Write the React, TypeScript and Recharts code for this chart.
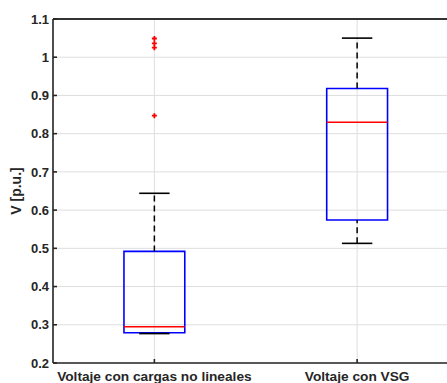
import React from 'react';
import {
  ComposedChart,
  XAxis,
  YAxis,
  CartesianGrid,
  ReferenceLine,
  ReferenceArea,
  Scatter,
} from 'recharts';

const categories = ['Voltaje con cargas no lineales', 'Voltaje con VSG'];
const positions = [1, 2];
const q1 = [0.279, 0.574];
const median = [0.295, 0.83];
const q3 = [0.492, 0.918];
const whiskerLow = [0.277, 0.513];
const whiskerHigh = [0.644, 1.05];
const outlierPos = [1, 1, 1, 1];
const outlierVal = [1.049, 1.036, 1.025, 0.847];
const yTicks = [0.2, 0.3, 0.4, 0.5, 0.6, 0.7, 0.8, 0.9, 1, 1.1];
const yTickLabels = ['0.2', '0.3', '0.4', '0.5', '0.6', '0.7', '0.8', '0.9', '1', '1.1'];

const BOX_HALF = 0.15;
const CAP_HALF = 0.075;
const AXIS = '#262626';
const FONT_FAMILY = '"Liberation Sans", Arial, sans-serif';
const YFONT = { fontFamily: FONT_FAMILY, fontWeight: 700, fontSize: 13, fill: AXIS };
const XFONT = { fontFamily: FONT_FAMILY, fontWeight: 700, fontSize: 13.7, fill: AXIS };

const outlierData = outlierPos.map((x, i) => ({ x, y: outlierVal[i] }));

const Plus = (props: any) => {
  const { cx, cy } = props;
  if (cx == null || cy == null) return null;
  return (
    <path
      d={`M${cx - 2.5},${cy}h5M${cx},${cy - 2.5}v5`}
      stroke="#ff0000"
      strokeWidth={1.8}
      fill="none"
    />
  );
};

export default function App() {
  return (
    <div style={{ position: 'fixed', left: 0, top: 0, width: 447, height: 383, overflow: 'hidden', background: '#fff' }}>
      <ComposedChart
        width={462}
        height={383}
        margin={{ top: 18, right: 3.5, bottom: 0, left: 0 }}
        data={outlierData}
      >
        <CartesianGrid stroke="#dedede" strokeWidth={1} />
        <XAxis
          type="number"
          dataKey="x"
          domain={[0.5, 2.5]}
          ticks={positions}
          allowDataOverflow
          height={20}
          tickSize={-4}
          tickMargin={12}
          tickFormatter={(v: number) => categories[positions.indexOf(v)] ?? ''}
          tick={XFONT}
          stroke={AXIS}
          strokeWidth={1.6}
          interval={0}
        />
        <XAxis
          xAxisId="top"
          orientation="top"
          type="number"
          domain={[0.5, 2.5]}
          ticks={positions}
          height={1}
          tickSize={-4}
          tick={false}
          stroke={AXIS}
          strokeWidth={1.6}
        />
        <YAxis
          type="number"
          dataKey="y"
          domain={[0.2, 1.1]}
          ticks={yTicks}
          allowDataOverflow
          width={53}
          tickSize={-4}
          tickMargin={8}
          tickFormatter={(v: number) => yTickLabels[yTicks.indexOf(v)] ?? String(v)}
          tick={YFONT}
          stroke={AXIS}
          strokeWidth={1.6}
          interval={0}
          label={{
            value: 'V [p.u.]',
            angle: -90,
            position: 'center',
            dx: -10.5,
            style: { ...YFONT, fontSize: 14 },
          }}
        />
        <ReferenceLine y={1.1} stroke={AXIS} strokeWidth={1.6} ifOverflow="visible" />
        {positions.map((p, i) => (
          <ReferenceLine
            key={`wu${i}`}
            segment={[{ x: p, y: q3[i] }, { x: p, y: whiskerHigh[i] }]}
            stroke="#000"
            strokeWidth={1.5}
            strokeDasharray="6 4"
          />
        ))}
        {positions.map((p, i) => (
          <ReferenceLine
            key={`wl${i}`}
            segment={[{ x: p, y: whiskerLow[i] }, { x: p, y: q1[i] }]}
            stroke="#000"
            strokeWidth={1.5}
            strokeDasharray="6 4"
          />
        ))}
        {positions.map((p, i) => (
          <ReferenceLine
            key={`cu${i}`}
            segment={[{ x: p - CAP_HALF, y: whiskerHigh[i] }, { x: p + CAP_HALF, y: whiskerHigh[i] }]}
            stroke="#000"
            strokeWidth={1.6}
          />
        ))}
        {positions.map((p, i) => (
          <ReferenceLine
            key={`cl${i}`}
            segment={[{ x: p - CAP_HALF, y: whiskerLow[i] }, { x: p + CAP_HALF, y: whiskerLow[i] }]}
            stroke="#000"
            strokeWidth={1.6}
          />
        ))}
        {positions.map((p, i) => (
          <ReferenceArea
            key={`b${i}`}
            x1={p - BOX_HALF}
            x2={p + BOX_HALF}
            y1={q1[i]}
            y2={q3[i]}
            fill="none"
            fillOpacity={0}
            stroke="#0000ff"
            strokeWidth={1.6}
          />
        ))}
        {positions.map((p, i) => (
          <ReferenceLine
            key={`m${i}`}
            segment={[{ x: p - BOX_HALF, y: median[i] }, { x: p + BOX_HALF, y: median[i] }]}
            stroke="#ff0000"
            strokeWidth={1.6}
          />
        ))}
        <Scatter dataKey="y" shape={<Plus />} isAnimationActive={false} />
      </ComposedChart>
    </div>
  );
}
